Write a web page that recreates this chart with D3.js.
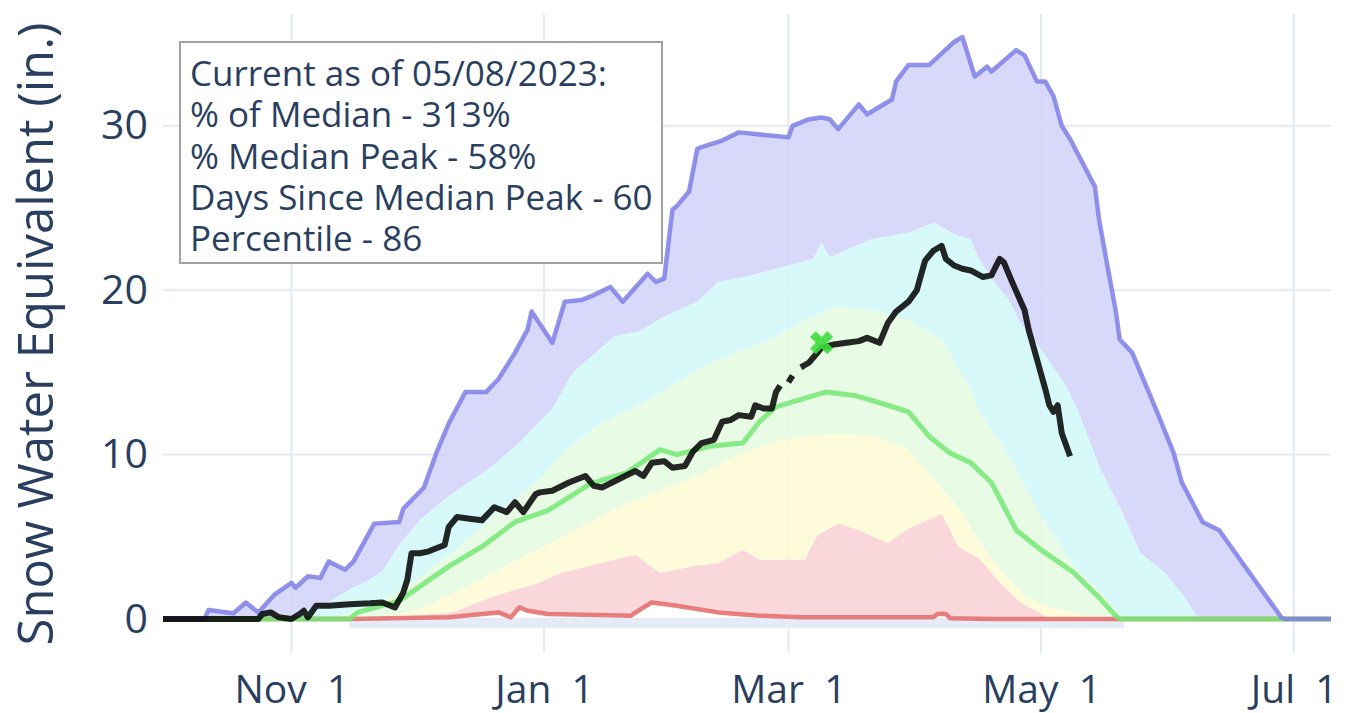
<!DOCTYPE html>
<html>
<head>
<meta charset="utf-8">
<script src="https://cdn.jsdelivr.net/npm/d3@7"></script>
<style>
  body { margin: 0; background: #fff; }
  svg text { font-family: "Open Sans", Verdana, Arial, sans-serif; fill: #2a3f5f; }
</style>
</head>
<body>
<div class="chart"></div>
<script>
// days counted from Oct 1 of the water year, values in inches of SWE
var maxSwe = [[0,0],[10,0],[11,0.55],[17,0.35],[20,1.0],[23,0.4],[27,1.5],[31,2.2],[32,1.9],[35,2.6],[38,2.5],[40,3.5],[44,3.0],[46,3.5],[51,5.8],[57,5.9],[58,6.7],[63,8.0],[66,10.1],[69,11.9],[73,13.8],[78,13.8],[81,14.6],[85,16.2],[88,17.6],[89,18.7],[94,16.8],[97,19.3],[101,19.4],[104,19.7],[108,20.2],[111,19.3],[117,21.0],[119,20.5],[121,20.7],[123,24.9],[124,25.1],[127,26.0],[129,28.6],[130,28.7],[135,29.1],[139,29.6],[151,29.3],[152,30.0],[156,30.4],[159,30.5],[161,30.4],[163,29.8],[168,31.3],[170,30.7],[176,31.6],[177,32.7],[180,33.7],[185,33.7],[191,35.1],[193,35.4],[196,33.0],[199,33.6],[200,33.3],[206,34.6],[208,34.3],[211,32.7],[213,32.7],[215,31.8],[217,30.0],[219,29.2],[225,26.3],[226,24.3],[228,21.5],[230,18.8],[231,17.0],[234,16.2],[240,12.6],[244,10.1],[246,8.3],[251,5.9],[255,5.4],[270,0.1],[271,0],[282,0]];
var p90 = [[0,0],[28,0],[33,0.4],[40,1.0],[45,1.8],[50,2.4],[53,2.9],[57,4.5],[62,6.0],[68,7.3],[79,9.2],[86,10.7],[94,12.8],[99,15.0],[109,17.2],[115,17.5],[121,18.4],[129,19.3],[134,20.5],[142,20.9],[151,21.5],[157,21.9],[159,22.9],[161,22.0],[171,23.1],[180,23.5],[186,24.1],[192,23.3],[195,23.1],[197,21.9],[200,20.7],[204,19.5],[207,18.0],[212,16.4],[218,14.2],[221,12.6],[226,9.3],[231,6.8],[236,4.0],[242,2.8],[247,1.2],[250,0],[282,0]];
var p70 = [[0,0],[40,0],[43,0.2],[52,1.0],[62,2.5],[72,4.5],[81,6.5],[91,8.5],[96,10.0],[105,11.8],[115,13.0],[130,15.3],[139,16.3],[147,17.0],[155,18.2],[163,19.0],[171,18.8],[180,18.2],[184,17.6],[188,17.0],[192,15.2],[195,14.0],[197,12.6],[204,10.0],[212,6.2],[220,3.2],[228,1.2],[232,0],[282,0]];
var median = [[0,0],[45,0],[47,0.4],[57,1.1],[69,3.2],[77,4.4],[85,5.9],[93,6.6],[98,7.4],[103,8.2],[112,8.9],[120,10.3],[124,10.0],[132,10.5],[140,10.7],[144,12.0],[148,12.9],[152,13.2],[160,13.8],[167,13.6],[175,13.0],[180,12.6],[185,11.1],[190,10.1],[195,9.5],[200,8.3],[206,5.4],[212,4.2],[220,2.8],[226,1.3],[230,0.2],[231,0],[282,0]];
var p30 = [[0,0],[52,0],[62,0.6],[72,1.8],[81,3.0],[91,4.3],[101,5.6],[110,6.8],[120,7.8],[130,8.8],[139,10.0],[149,10.9],[159,11.2],[168,11.2],[172,11.1],[180,10.3],[186,8.5],[192,6.8],[197,4.8],[202,3.0],[208,1.4],[213,0.8],[221,0.3],[228,0],[282,0]];
var p10 = [[0,0],[45,0],[57,0.1],[70,0.4],[80,1.4],[91,2.2],[96,2.8],[104,3.3],[114,3.9],[120,2.8],[128,3.2],[134,3.4],[140,4.2],[144,3.6],[155,3.6],[158,5.1],[163,5.8],[168,5.4],[175,4.6],[180,5.5],[188,6.4],[192,4.4],[197,3.7],[202,2.2],[207,1.0],[212,0.3],[214,0],[282,0]];
var minSwe = [[0,0],[45,0],[69,0.1],[81,0.4],[84,0.1],[86,0.7],[88,0.5],[93,0.3],[113,0.2],[116,0.7],[118,1.0],[124,0.8],[134,0.4],[144,0.2],[154,0.1],[186,0.1],[187,0.3],[189,0.3],[190,0.05],[200,0],[282,0]];
var current = [[0,0],[23,0],[24,0.3],[26,0.4],[28,0.1],[31,0],[33,0.3],[34,0.5],[35,0.1],[37,0.8],[40,0.8],[45,0.9],[50,0.95],[53,1.0],[56,0.7],[58,1.6],[59,2.4],[60,4.0],[62,4.0],[64,4.1],[66,4.3],[68,4.5],[69,5.6],[71,6.2],[74,6.1],[77,6.0],[80,6.8],[82,6.6],[83,6.5],[85,7.1],[87,6.5],[90,7.6],[91,7.7],[94,7.8],[98,8.3],[100,8.5],[102,8.7],[104,8.1],[106,8.0],[110,8.5],[114,9.0],[116,8.7],[118,9.5],[121,9.6],[123,9.2],[126,9.3],[128,10.2],[130,10.7],[133,10.9],[135,12.0],[137,12.1],[139,12.4],[142,12.3],[143,13.0],[145,12.8],[147,12.8],[148,13.8],[149,14.2],[150,null],[151,14.4],[152,14.8],[153,null],[154,15.3],[156,15.6],[159,16.5],[162,16.7],[165,16.8],[168,16.9],[170,17.1],[173,16.8],[175,18.0],[177,18.7],[180,19.3],[182,20.0],[184,21.8],[186,22.4],[188,22.7],[189,21.9],[191,21.5],[193,21.3],[195,21.2],[198,20.8],[200,20.9],[202,21.9],[203,21.7],[205,20.5],[208,18.8],[209,17.6],[212,14.9],[213,14.0],[214,13.0],[215,12.6],[216,13.0],[217,11.3],[219,9.9]];
var peakMarker = [[159,16.8]];
var baseStrip = [[45,-0.55],[232,-0.55]];

var tickDates = ["2022-11-01","2023-01-01","2023-03-01","2023-05-01","2023-07-01"];
var tickLabels = ["Nov  1","Jan  1","Mar  1","May  1","Jul  1"];
var yTicks = [0, 10, 20, 30];
var noteLines = ["Current as of 05/08/2023:", "% of Median - 313%", "% Median Peak - 58%", "Days Since Median Peak - 60", "Percentile - 86"];

var svgWidth = 1356;
var svgHeight = 713;
var plot = { left: 163, right: 1331, top: 14, bottom: 653 };

var svg = d3.select(".chart")
  .append("svg")
  .attr("width", svgWidth)
  .attr("height", svgHeight);

svg.append("rect").attr("width", svgWidth).attr("height", svgHeight).attr("fill", "#fff");

var start = new Date(2022, 9, 1);
var end = new Date(2023, 6, 10);
var day = function(n) { return d3.timeDay.offset(start, n); };
var parse = d3.timeParse("%Y-%m-%d");

var x = d3.scaleTime().domain([start, end]).range([plot.left, plot.right]);
var y = d3.scaleLinear().domain([-2.07, 36.8]).range([plot.bottom, plot.top]);

// grid
svg.append("g").selectAll("line")
  .data(tickDates)
  .enter().append("line")
  .attr("x1", function(d) { return x(parse(d)); })
  .attr("x2", function(d) { return x(parse(d)); })
  .attr("y1", plot.top).attr("y2", plot.bottom)
  .attr("stroke", "#e4e9f4").attr("stroke-width", 2);

svg.append("g").selectAll("line")
  .data(yTicks)
  .enter().append("line")
  .attr("x1", plot.left).attr("x2", plot.right)
  .attr("y1", function(d) { return y(d); })
  .attr("y2", function(d) { return y(d); })
  .attr("stroke", "#e4e9f4").attr("stroke-width", 2);

var lineFunc = d3.line()
  .defined(function(d) { return d[1] !== null; })
  .x(function(d) { return x(day(d[0])); })
  .y(function(d) { return y(d[1]); });

// bands: upper series forward, lower series back
var bands = [
  { upper: maxSwe, lower: p90, color: "#d4d4f9" },
  { upper: p90, lower: p70, color: "#d3f8fa" },
  { upper: p70, lower: p30, color: "#e6fbe1" },
  { upper: p30, lower: p10, color: "#fefbd6" },
  { upper: p10, lower: minSwe, color: "#fad3d6" }
];

svg.append("path")
  .attr("d", lineFunc(baseStrip.concat([[232,0],[45,0]])) + "Z")
  .attr("fill", "#e6ecf7");

bands.forEach(function(b) {
  var poly = b.upper.concat(b.lower.slice().reverse());
  svg.append("path")
    .attr("d", lineFunc(poly) + "Z")
    .attr("fill", b.color)
    .attr("fill-opacity", 0.9);
});

// lines
function drawLine(data, color, width, opacity) {
  svg.append("path")
    .attr("d", lineFunc(data))
    .attr("fill", "none")
    .attr("stroke", color)
    .attr("stroke-width", width)
    .attr("stroke-opacity", opacity)
    .attr("stroke-linejoin", "round");
}

drawLine(minSwe, "#e46a6a", 4.5, 0.85);
drawLine(median, "#74e874", 5, 0.85);
drawLine(maxSwe, "#7f7fe6", 4.5, 0.85);
drawLine(current, "#000", 6, 0.85);

// median peak marker
var cross = d3.symbol().type(d3.symbolCross).size(330);
svg.append("g").selectAll("path")
  .data(peakMarker)
  .enter().append("path")
  .attr("transform", function(d) { return "translate(" + x(day(d[0])) + "," + y(d[1]) + ") rotate(45)"; })
  .attr("d", cross)
  .attr("fill", "#3cdc3c")
  .attr("fill-opacity", 0.9);

// axes
var xAxis = d3.axisBottom(x)
  .tickValues(tickDates.map(parse))
  .tickFormat(function(d, i) { return tickLabels[i]; })
  .tickSize(0).tickPadding(0);

svg.append("g")
  .attr("transform", "translate(0,675)")
  .call(xAxis)
  .call(function(g) { g.select(".domain").remove(); })
  .selectAll("text")
  .attr("dy", "0.71em")
  .style("white-space", "pre")
  .style("font-size", "39px");

var yAxis = d3.axisLeft(y).tickValues(yTicks).tickSize(0).tickPadding(0);
svg.append("g")
  .attr("transform", "translate(148,0)")
  .call(yAxis)
  .call(function(g) { g.select(".domain").remove(); })
  .selectAll("text")
  .style("font-size", "41px");

svg.append("text")
  .attr("transform", "translate(53,334) rotate(-90)")
  .attr("text-anchor", "middle")
  .style("font-size", "49px")
  .text("Snow Water Equivalent (in.)");

// note box
svg.append("rect")
  .attr("x", 180).attr("y", 42)
  .attr("width", 482).attr("height", 221)
  .attr("fill", "#fff")
  .attr("stroke", "#a3a3a3")
  .attr("stroke-width", 2);

svg.append("g").selectAll("text")
  .data(noteLines)
  .enter().append("text")
  .attr("x", 190)
  .attr("y", function(d, i) { return 86 + i * 41.3; })
  .style("font-size", "35px")
  .text(function(d) { return d; });
</script>
</body>
</html>
